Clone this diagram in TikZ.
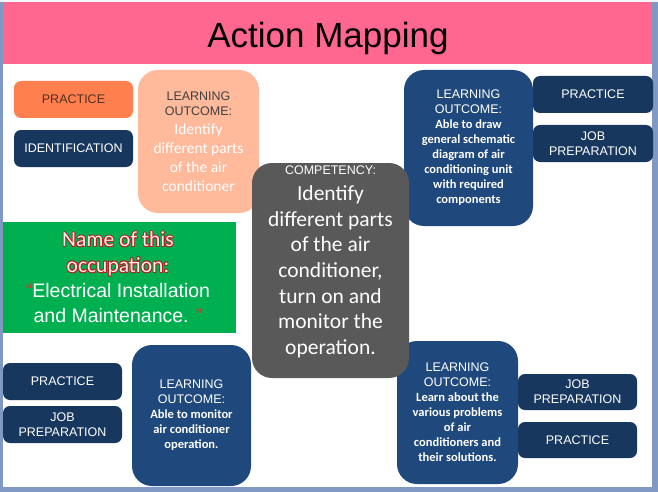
\documentclass[tikz,border=0pt]{standalone}
\usepackage{fontspec}
\setmainfont{Liberation Sans}
\newfontfamily\calfont{Carlito}
\usetikzlibrary{calc}
\definecolor{framec}{HTML}{7F98C4}
\definecolor{bandpink}{HTML}{FF6690}
\definecolor{orangebox}{HTML}{FF7F4F}
\definecolor{orangetxt}{HTML}{50301F}
\definecolor{peach}{HTML}{FFB99B}
\definecolor{peachtxt}{HTML}{404040}
\definecolor{navyS}{HTML}{17375E}
\definecolor{navyL}{HTML}{1F497D}
\definecolor{compgrey}{HTML}{595959}
\definecolor{greenbox}{HTML}{00B050}
\definecolor{glowred}{HTML}{B02020}
\definecolor{glowwhite}{HTML}{FFEAEA}
\definecolor{quotered}{HTML}{E83030}
\tikzset{
  basebox/.style={inner sep=2pt, outer sep=0pt, align=center},
  smallbox/.style={basebox, fill=navyS, text=white, minimum width=119pt, minimum height=37pt,
    rounded corners=7pt, font=\fontsize{12.5}{15}\selectfont},
  lobox/.style={basebox, fill=navyL, text=white, rounded corners=20pt,
    font=\calfont\bfseries\fontsize{12.5}{15}\selectfont},
  glowtxt/.style={inner sep=0pt, align=center, font=\calfont\fontsize{21.5}{25.7}\selectfont},
}
\newcommand\lohdr{{\rmfamily\mdseries LEARNING}\\{\rmfamily\mdseries OUTCOME:}}
\begin{document}
\begin{tikzpicture}[x=1pt,y=-1pt]
\useasboundingbox (0,0) rectangle (658,492);
\fill[framec] (0,0) rectangle (658,492);
\fill[white!92!framec] (0,0) rectangle (658,2);
\fill[white] (3,2) rectangle (652,487);
% title band
\node[fill=bandpink, minimum width=649pt, minimum height=62pt, inner sep=0pt, outer sep=0pt] (band) at (327.5,33) {};
\node[anchor=base, inner sep=0pt, font=\fontsize{35}{40}\selectfont] (title) at (328,48) {Action Mapping};
% top left
\node[smallbox, fill=orangebox, text=orangetxt] (prac1) at (73.5,99.5) {PRACTICE};
\node[smallbox] (ident) at (73.5,148.5) {IDENTIFICATION};
\node[basebox, fill=peach, rounded corners=20pt, minimum width=121pt, minimum height=143pt,
  font=\calfont\fontsize{15.5}{19}\selectfont, text=white] (lo1) at (198.5,141.5)
  {{\rmfamily\fontsize{12.5}{15}\selectfont\color{peachtxt}LEARNING}\\[-4pt]
   {\rmfamily\fontsize{12.5}{15}\selectfont\color{peachtxt}OUTCOME:}\\
   Identify\\different parts\\of the air\\conditioner};
% green box
\node[fill=greenbox, minimum width=233pt, minimum height=111pt, inner sep=0pt, outer sep=0pt] (green) at (119.5,277.5) {};
\foreach \a in {0,45,...,315}{
  \node[glowtxt, text=glowred] (glow\a) at ($(118,254)+(\a:0.9)$) {Name of this\\occupation:};
}
\node[glowtxt, text=glowwhite] (occname) at (118,254) {Name of this\\occupation:};
\node[inner sep=0pt, align=center, text=white, font=\fontsize{19.5}{25.7}\selectfont] (occval) at (118,303)
  {{\color{quotered}“}Electrical Installation\\and Maintenance. {\color{quotered}”}};
% top right
\node[lobox, minimum width=129pt, minimum height=156pt] (lo2) at (468.5,148)
  {\lohdr\\Able to draw\\general schematic\\diagram of air\\conditioning unit\\with required\\components};
\node[smallbox, minimum width=120pt] (prac2) at (593,94.5) {PRACTICE};
\node[smallbox, minimum width=120pt] (job2) at (593,143.5) {JOB\\PREPARATION};
% bottom left
\node[lobox, minimum width=119pt, minimum height=141pt] (lo3) at (191.5,415.5)
  {\lohdr\\Able to monitor\\air conditioner\\operation.};
\node[smallbox] (prac3) at (62.5,381.5) {PRACTICE};
\node[smallbox] (job3) at (62.5,424.5) {JOB\\PREPARATION};
% bottom right
\node[lobox, minimum width=121pt, minimum height=143pt] (lo4) at (457.5,412.5)
  {\lohdr\\Learn about the\\various problems\\of air\\conditioners and\\their solutions.};
\node[smallbox, minimum height=36pt] (job4) at (577.5,392) {JOB\\PREPARATION};
\node[smallbox, minimum height=36pt] (prac4) at (577.5,440) {PRACTICE};
% competency
\node[fill=compgrey, rounded corners=20pt, minimum width=157pt, minimum height=215pt, inner sep=0pt, outer sep=0pt] (comp) at (330.5,270.5) {};
\node[inner sep=0pt, align=center, text=white, font=\calfont\fontsize{21.5}{25.7}\selectfont] (comptxt) at (330.5,262)
  {{\rmfamily\fontsize{12.5}{15}\selectfont COMPETENCY:}\\Identify\\different parts\\of the air\\conditioner,\\turn on and\\monitor the\\operation.};
\end{tikzpicture}
\end{document}
